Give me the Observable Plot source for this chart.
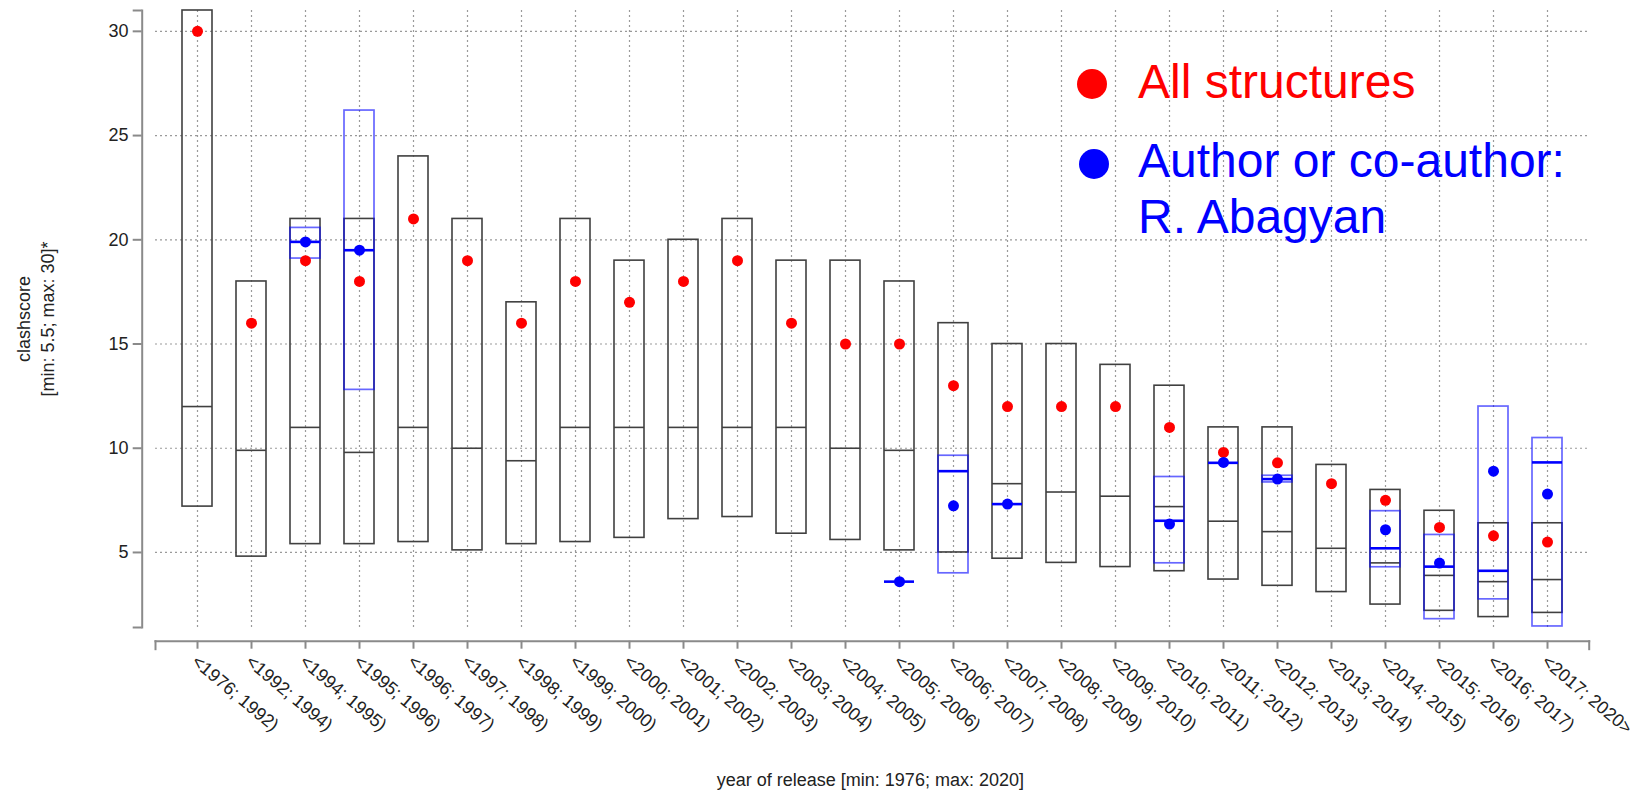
<!DOCTYPE html>
<html>
<head>
<meta charset="utf-8">
<script src="https://cdn.jsdelivr.net/npm/d3@7"></script>
<script src="https://cdn.jsdelivr.net/npm/@observablehq/plot@0.6"></script>
<style>
  html, body { margin: 0; padding: 0; background: #fff; overflow: hidden; }
  #wrap { position: relative; width: 1651px; height: 790px; font-family: "Liberation Sans", Arial, sans-serif; }
  #wrap svg { position: absolute; left: 0; top: 0; }
  .lg-dot { position: absolute; width: 30px; height: 30px; border-radius: 50%; }
  .lg-txt { position: absolute; font-size: 48px; white-space: nowrap; font-family: "Liberation Sans", Arial, sans-serif; }
</style>
</head>
<body>
<div id="wrap">
  <div id="chart"></div>
  <div class="lg-dot" style="left:1077px; top:69px; background:#ff0000;"></div>
  <div class="lg-txt" style="left:1138px; top:57.7px; line-height:48px; color:#ff0000;">All structures</div>
  <div class="lg-dot" style="left:1079px; top:149px; background:#0000ff;"></div>
  <div class="lg-txt" style="left:1138px; top:133.3px; line-height:55.6px; color:#0000ff;">Author or co-author:<br>R. Abagyan</div>
</div>
<script>
// ---- data ----
const categories = [
  "<1976; 1992)", "<1992; 1994)", "<1994; 1995)", "<1995; 1996)", "<1996; 1997)",
  "<1997; 1998)", "<1998; 1999)", "<1999; 2000)", "<2000; 2001)", "<2001; 2002)",
  "<2002; 2003)", "<2003; 2004)", "<2004; 2005)", "<2005; 2006)", "<2006; 2007)",
  "<2007; 2008)", "<2008; 2009)", "<2009; 2010)", "<2010; 2011)", "<2011; 2012)",
  "<2012; 2013)", "<2013; 2014)", "<2014; 2015)", "<2015; 2016)", "<2016; 2017)",
  "<2017; 2020>"
];
// All structures: box low / median / high, and marker value (red dot)
const allLow  = [7.2, 4.8, 5.4, 5.4, 5.5, 5.1, 5.4, 5.5, 5.7, 6.6, 6.7, 5.9, 5.6, 5.1, 5.0, 4.7, 4.5, 4.3, 4.1, 3.7, 3.4, 3.1, 2.5, 2.2, 1.9, 2.1];
const allMed  = [12, 9.9, 11, 9.8, 11, 10, 9.4, 11, 11, 11, 11, 11, 10, 9.9, 8.9, 8.3, 7.9, 7.7, 7.2, 6.5, 6.0, 5.2, 4.5, 3.9, 3.6, 3.7];
const allHigh = [31, 18, 21, 21, 24, 21, 17, 21, 19, 20, 21, 19, 19, 18, 16, 15, 15, 14, 13, 11, 11, 9.2, 8.0, 7.0, 6.4, 6.4];
const allDot  = [30, 16, 19, 18, 21, 19, 16, 18, 17, 18, 19, 16, 15, 15, 13, 12, 12, 12, 11, 9.8, 9.3, 8.3, 7.5, 6.2, 5.8, 5.5];
// Author or co-author: R. Abagyan (null = no structures)
const authLow  = [null, null, 19.1, 12.8, null, null, null, null, null, null, null, null, null, 3.6, 4.0, 7.32, null, null, 4.48, 9.3, 8.36, null, 4.29, 1.8, 2.75, 1.45];
const authMed  = [null, null, 19.9, 19.5, null, null, null, null, null, null, null, null, null, 3.6, 8.9, 7.32, null, null, 6.52, 9.3, 8.52, null, 5.2, 4.32, 4.12, 9.32];
const authHigh = [null, null, 20.57, 26.2, null, null, null, null, null, null, null, null, null, 3.6, 9.64, 7.32, null, null, 8.62, 9.3, 8.68, null, 6.98, 5.84, 12.0, 10.49];
const authDot  = [null, null, 19.9, 19.5, null, null, null, null, null, null, null, null, null, 3.6, 7.24, 7.32, null, null, 6.36, 9.32, 8.52, null, 6.09, 4.49, 8.9, 7.8];

const yTicks = [5, 10, 15, 20, 25, 30];
const yDomain = [1.4, 31];
const yTitle = "clashscore\n[min: 5.5; max: 30]*";
const xTitle = "year of release [min: 1976; max: 2020]";

// ---- build tables ----
const allRows = categories.map((c, i) => ({cat: c, lo: allLow[i], med: allMed[i], hi: allHigh[i], dot: allDot[i]}));
const authRows = categories.map((c, i) => ({cat: c, lo: authLow[i], med: authMed[i], hi: authHigh[i], dot: authDot[i]}))
  .filter(d => d.med != null);

const AX = "#8a8a8a";
const GRID = "#9a9a9a";
const FONT = "Liberation Sans, Arial, sans-serif";

const chart = Plot.plot({
  width: 1651,
  height: 790,
  marginLeft: 155,
  marginRight: 62.3,
  marginTop: 10,
  marginBottom: 163,
  style: {fontFamily: FONT, fontSize: "18px", color: "#222", background: "transparent"},
  x: {domain: categories, paddingInner: 0.4536, paddingOuter: 0.284, axis: null},
  y: {domain: yDomain, axis: null},
  marks: [
    Plot.gridY(yTicks, {stroke: GRID, strokeOpacity: 1, strokeWidth: 1.2, strokeDasharray: "2,3"}),
    Plot.gridX({stroke: GRID, strokeOpacity: 1, strokeWidth: 1.2, strokeDasharray: "2,3"}),

    // axis lines (offset from the plotting area)
    Plot.frame({anchor: "left", dx: -13.3, stroke: AX, strokeWidth: 2}),
    Plot.frame({anchor: "bottom", dy: 13.7, stroke: AX, strokeWidth: 2}),
    // outer ticks of x axis
    Plot.frame({anchor: "left", dy: 21.7, insetTop: 609, stroke: AX, strokeWidth: 2}),
    Plot.frame({anchor: "right", dy: 21.7, insetTop: 609, stroke: AX, strokeWidth: 2}),

    Plot.axisY(yTicks, {anchor: "left", dx: -13.3, tickSize: 9, tickPadding: 4.7, stroke: AX, strokeWidth: 2,
      fill: "#222", fontSize: 18, label: null}),
    Plot.axisY(yDomain, {anchor: "left", dx: -13.3, tickSize: 9, stroke: AX, strokeWidth: 2, fill: "none", label: null}),
    Plot.axisX({anchor: "bottom", dy: 13.7, tickSize: 8, stroke: AX, strokeWidth: 2, fill: "none", label: null}),
    Plot.axisX({anchor: "bottom", dy: 13.7, dx: -3, tickSize: 8, tickPadding: 10, tickRotate: 40, stroke: "none",
      fill: "#222", fontSize: 18, label: null}),

    Plot.text([yTitle], {text: d => d, frameAnchor: "left", dx: 34 - 155, rotate: -90, lineHeight: 1.333,
      textAnchor: "middle", lineAnchor: "middle", fontSize: 18, fill: "#222"}),
    Plot.text([xTitle], {text: d => d, frameAnchor: "bottom", dy: 152.5, dx: -2, textAnchor: "middle", lineAnchor: "middle",
      fontSize: 18, fill: "#222"}),

    // all structures boxes
    Plot.barY(allRows, {x: "cat", y1: "lo", y2: "hi", fill: "none", stroke: "#404040", strokeWidth: 1.6}),
    Plot.tickY(allRows, {x: "cat", y: "med", stroke: "#404040", strokeWidth: 1.6}),
    // author boxes
    Plot.barY(authRows, {x: "cat", y1: "lo", y2: "hi", fill: "none", stroke: "#0000ff", strokeOpacity: 0.6, strokeWidth: 1.7}),
    Plot.tickY(authRows, {x: "cat", y: "med", stroke: "#0000ff", strokeWidth: 2.6}),
    // markers
    Plot.dot(allRows, {x: "cat", y: "dot", r: 5.5, fill: "#ff0000"}),
    Plot.dot(authRows, {x: "cat", y: "dot", r: 5.5, fill: "#0000ff"})
  ]
});
document.getElementById("chart").appendChild(chart);
</script>
</body>
</html>
